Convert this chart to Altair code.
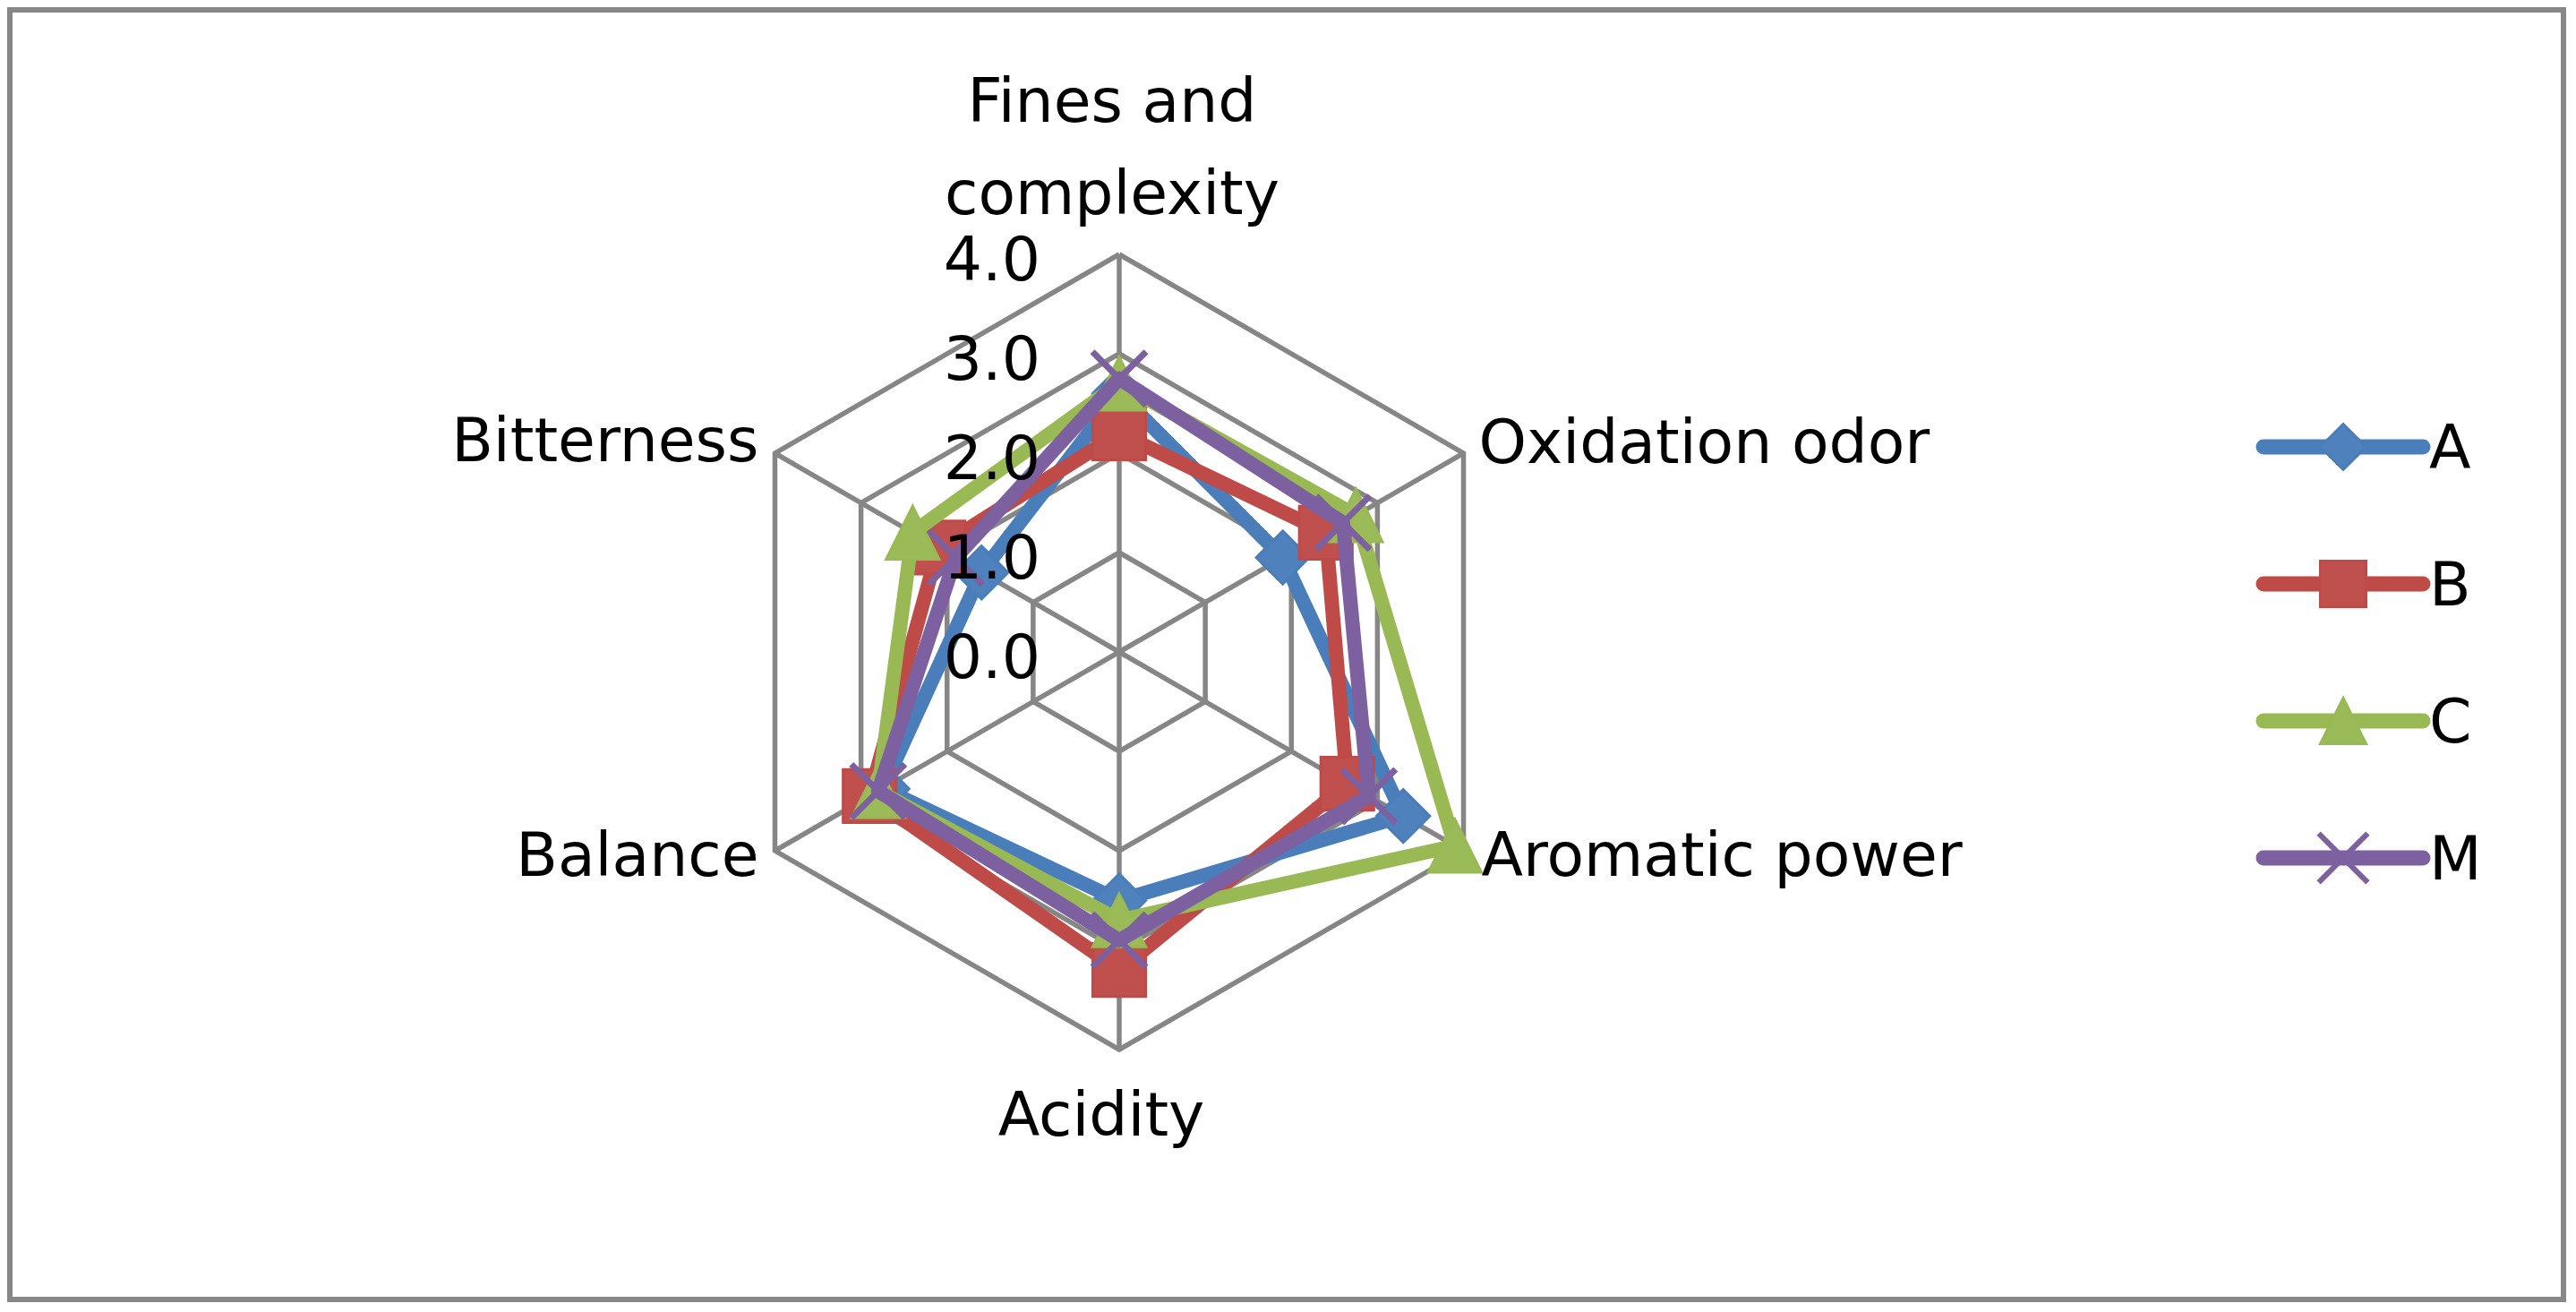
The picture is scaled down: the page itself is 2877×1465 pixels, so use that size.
import altair as alt
import pandas as pd

# ---------------- data ----------------
categories = ["Fines and complexity", "Oxidation odor", "Aromatic power",
              "Acidity", "Balance", "Bitterness"]
series = ["A", "B", "C", "M"]
values_A = [2.6, 1.9, 3.3, 2.5, 2.75, 1.6]
values_B = [2.2, 2.4, 2.65, 3.2, 2.9, 2.1]
values_C = [2.7, 2.75, 3.9, 2.7, 2.8, 2.4]
values_M = [2.75, 2.6, 2.9, 2.9, 2.8, 1.9]
ticks = [0.0, 1.0, 2.0, 3.0, 4.0]
tick_labels = ["0.0", "1.0", "2.0", "3.0", "4.0"]

series_values = {"A": values_A, "B": values_B, "C": values_C, "M": values_M}

# ---------------- styles ----------------
line_colors = {"A": "#4A7EBB", "B": "#BE4B48", "C": "#98B954", "M": "#7D60A0"}
fill_colors = {"A": "#4F81BD", "B": "#C0504D", "C": "#9BBB59", "M": "#7D60A0"}
shapes = {"A": "diamond", "B": "square", "C": "M0,-1L1,1L-1,1Z", "M": "M-1,-1L1,1M-1,1L1,-1"}
FONT = "DejaVu Sans"
FS = 68
GRID = "#868686"

W, H = 2858, 1446
UNIT = 111.0
CX, CY = 1242.0, 720.0  # centre in view pixels
xs = alt.Scale(domain=[-CX / UNIT, (W - CX) / UNIT], nice=False, zero=False)
ys = alt.Scale(domain=[-(H - CY) / UNIT, CY / UNIT], nice=False, zero=False)

# ---------------- tables ----------------
n = len(categories)
rows = []
for s in series:
    vals = series_values[s]
    for k in range(n + 1):
        rows.append({"series": s, "k": k, "value": vals[k % n]})
df_series = pd.DataFrame(rows)

ring_rows = []
for r in ticks[1:]:
    for k in range(n + 1):
        ring_rows.append({"ring": r, "k": k})
df_rings = pd.DataFrame(ring_rows)

df_spokes = pd.DataFrame({"k": list(range(n)), "r0": [min(ticks)] * n, "r": [max(ticks)] * n})
df_cats = pd.DataFrame({"cat": categories, "k": list(range(n)), "r": [max(ticks)] * n})
df_ticks = pd.DataFrame({"v": ticks, "label": tick_labels})
df_legend = pd.DataFrame({"series": series})

ANG = f"PI/2 - datum.k*2*PI/{n}"

def X(field):
    return alt.X(field, type="quantitative", scale=xs, axis=None)

def Y(field):
    return alt.Y(field, type="quantitative", scale=ys, axis=None)

layers = []

# grid rings
rings = alt.Chart(df_rings).transform_calculate(ang=ANG).transform_calculate(
    px="datum.ring*cos(datum.ang)", py="datum.ring*sin(datum.ang)"
).mark_line(color=GRID, strokeWidth=5.5, strokeJoin="miter").encode(
    x=X("px"), y=Y("py"), detail="ring:N", order="k:Q"
)
layers.append(rings)

# spokes
spokes = alt.Chart(df_spokes).transform_calculate(ang=ANG).transform_calculate(
    x0="datum.r0*cos(datum.ang)", y0="datum.r0*sin(datum.ang)",
    x1="datum.r*cos(datum.ang)", y1="datum.r*sin(datum.ang)"
).mark_rule(color=GRID, strokeWidth=5.5).encode(
    x=X("x0"), y=Y("y0"), x2="x1:Q", y2="y1:Q"
)
layers.append(spokes)

# series
for s in series:
    base = alt.Chart(df_series).transform_filter(alt.datum.series == s).transform_calculate(
        ang=ANG).transform_calculate(
        px="datum.value*cos(datum.ang)", py="datum.value*sin(datum.ang)")
    line = base.mark_line(color=line_colors[s], strokeWidth=16, strokeJoin="round",
                          strokeCap="round").encode(x=X("px"), y=Y("py"), order="k:Q")
    layers.append(line)
    pts_base = base.transform_filter(f"datum.k < {n}")
    if s == "M":
        pts = pts_base.mark_point(shape=shapes[s], size=3600, filled=False,
                                  stroke=line_colors[s], strokeWidth=7, opacity=1)
    else:
        pts = pts_base.mark_point(shape=shapes[s], size=3500, filled=True,
                                  fill=fill_colors[s], stroke=line_colors[s],
                                  strokeWidth=3, opacity=1)
    layers.append(pts.encode(x=X("px"), y=Y("py")))

# category labels
cat_base = alt.Chart(df_cats).transform_calculate(ang=ANG).transform_calculate(
    px="datum.r*cos(datum.ang)", py="datum.r*sin(datum.ang)",
    txt="replace(datum.cat, 'and ', 'and\\n')")
txt_kw = dict(font=FONT, fontSize=FS, color="black")
layers.append(cat_base.transform_filter("datum.k == 0").mark_text(
    align="center", baseline="alphabetic", dx=-8, dy=-148, lineBreak="\n",
    lineHeight=103, **txt_kw).encode(x=X("px"), y=Y("py"), text="txt:N"))
layers.append(cat_base.transform_filter("datum.k == 1").mark_text(
    align="left", baseline="middle", dx=17, dy=-9, **txt_kw).encode(
    x=X("px"), y=Y("py"), text="cat:N"))
layers.append(cat_base.transform_filter("datum.k == 2").mark_text(
    align="left", baseline="middle", dx=20, dy=8, **txt_kw).encode(
    x=X("px"), y=Y("py"), text="cat:N"))
layers.append(cat_base.transform_filter("datum.k == 3").mark_text(
    align="center", baseline="middle", dx=-20, dy=76, **txt_kw).encode(
    x=X("px"), y=Y("py"), text="cat:N"))
layers.append(cat_base.transform_filter("datum.k == 4").mark_text(
    align="right", baseline="middle", dx=-18, dy=8, **txt_kw).encode(
    x=X("px"), y=Y("py"), text="cat:N"))
layers.append(cat_base.transform_filter("datum.k == 5").mark_text(
    align="right", baseline="middle", dx=-18, dy=-11, **txt_kw).encode(
    x=X("px"), y=Y("py"), text="cat:N"))

# tick labels (along the top axis)
tick_layer = alt.Chart(df_ticks).transform_calculate(
    px="datum.v*cos(PI/2)", py="datum.v*sin(PI/2)"
).mark_text(align="right", baseline="middle", dx=-88, dy=9, **txt_kw).encode(
    x=X("px"), y=Y("py"), text="label:N")
layers.append(tick_layer)

# legend
leg_y = alt.Y("series:N", scale=alt.Scale(type="point", domain=series, range=[491, 950], padding=0),
              axis=None)
for s in series:
    lb = alt.Chart(df_legend).transform_filter(alt.datum.series == s)
    layers.append(lb.mark_rule(color=line_colors[s], strokeWidth=17, strokeCap="round").encode(
        x=alt.value(2520), x2=alt.value(2698), y=leg_y))
    if s == "M":
        mk = lb.mark_point(shape=shapes[s], size=3000, filled=False, stroke=line_colors[s],
                           strokeWidth=6, opacity=1)
    else:
        mk = lb.mark_point(shape=shapes[s], size=2600, filled=True, fill=fill_colors[s],
                           stroke=line_colors[s], strokeWidth=3, opacity=1)
    layers.append(mk.encode(x=alt.value(2609), y=leg_y))
layers.append(alt.Chart(df_legend).mark_text(align="left", baseline="middle", dx=0, dy=4,
                                             **txt_kw).encode(
    x=alt.value(2705), y=leg_y, text="series:N"))

chart = alt.layer(*layers).resolve_scale(x="independent", y="independent").properties(
    width=W, height=H, padding=0
).configure_view(stroke="#878787", strokeWidth=12)

chart.save("out.html", embed_options={"renderer": "svg", "actions": False})
